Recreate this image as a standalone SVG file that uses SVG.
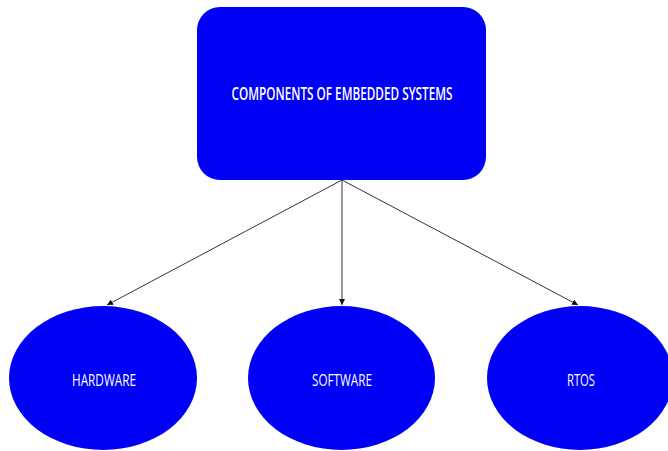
<svg xmlns="http://www.w3.org/2000/svg" width="668" height="451" viewBox="0 0 668 451">
  <style>
    .node { fill: #0000f5; }
    .label { fill: #ffffff; font-family: "Open Sans", "Liberation Sans", sans-serif; text-anchor: middle; }
    .title { font-size: 18px; font-weight: 600; }
    .item { font-size: 17px; }
    .edge { stroke: #333333; stroke-width: 1; fill: none; marker-end: url(#arrow); }
  </style>
  <defs>
    <marker id="arrow" viewBox="0 0 10 10" refX="10" refY="5" markerWidth="6" markerHeight="6" orient="auto" markerUnits="userSpaceOnUse">
      <path d="M0,0 L10,5 L0,10 Z" fill="#111111"/>
    </marker>
  </defs>
  <rect width="668" height="451" fill="#ffffff"/>

  <g id="connectors">
    <line class="edge" x1="342" y1="180" x2="107" y2="305"/>
    <line class="edge" x1="342" y1="180" x2="342" y2="305"/>
    <line class="edge" x1="342" y1="180" x2="578" y2="305"/>
  </g>

  <g id="components">
    <rect class="node" x="197" y="7" width="289" height="173" rx="23" ry="23"/>
    <text class="label title" x="342" y="99.5" textLength="221" lengthAdjust="spacingAndGlyphs">COMPONENTS OF EMBEDDED SYSTEMS</text>
  </g>

  <g id="hardware">
    <ellipse class="node" cx="103" cy="378" rx="94" ry="72"/>
    <text class="label item" x="104" y="386" textLength="64" lengthAdjust="spacingAndGlyphs">HARDWARE</text>
  </g>

  <g id="software">
    <ellipse class="node" cx="341.5" cy="378" rx="93.5" ry="72"/>
    <text class="label item" x="342" y="386" textLength="60" lengthAdjust="spacingAndGlyphs">SOFTWARE</text>
  </g>

  <g id="rtos">
    <ellipse class="node" cx="580" cy="378" rx="93" ry="72"/>
    <text class="label item" x="581" y="386" textLength="28" lengthAdjust="spacingAndGlyphs">RTOS</text>
  </g>
</svg>
